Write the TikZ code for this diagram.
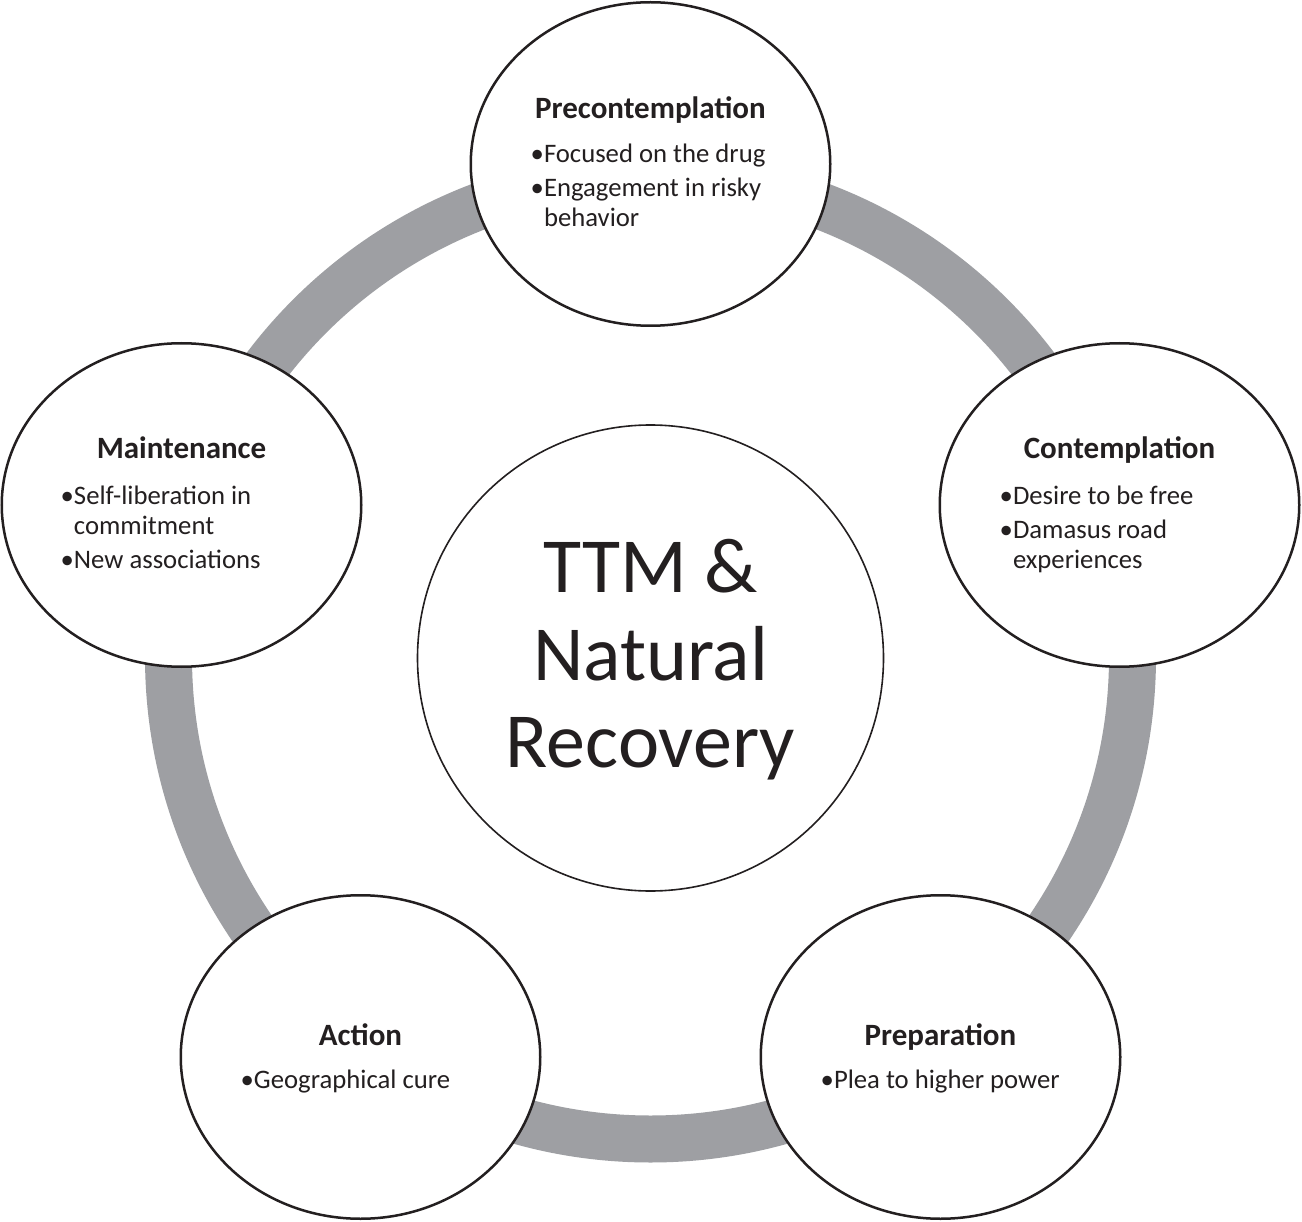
\documentclass[tikz,border=0pt]{standalone}
\usepackage{fontspec}
\setmainfont{Carlito}
\usetikzlibrary{shapes.geometric}
\definecolor{ink}{RGB}{35,31,32}
\definecolor{ringgray}{RGB}{158,159,163}
\begin{document}
\begin{tikzpicture}[x=1pt,y=-1pt,
  stage/.style={ellipse,draw=ink,line width=2.5pt,fill=white,minimum width=359.5pt,minimum height=323.5pt,inner sep=0pt},
  hub/.style={circle,draw=ink,line width=1.6pt,fill=white,minimum size=466pt,inner sep=0pt},
  ringline/.style={draw=ringgray,line width=47pt},
  stitle/.style={anchor=base,inner sep=0pt,font=\fontsize{31}{36}\selectfont\bfseries,text=ink},
  sbody/.style={anchor=base west,inner sep=0pt,font=\fontsize{26.7}{30}\selectfont,text=ink},
  hubtext/.style={anchor=base,inner sep=0pt,font=\fontsize{78}{88}\selectfont,text=ink}
]
\useasboundingbox (0,0) rectangle (1302,1222);
\fill[white] (0,0) rectangle (1302,1222);
\coordinate (o) at (650.5,657);
\draw[ringline] (o) circle[radius=482];
\node[hub] (hub) at (650.5,658) {};
\node[stage] (pre) at (650.5,164) {};
\node[stage] (con) at (1119.5,505) {};
\node[stage] (mai) at (181.5,505) {};
\node[stage] (prep) at (940.5,1057) {};
\node[stage] (act) at (360.5,1057) {};

\node[hubtext] (hubT) at (650.5,592) {\begin{tabular}[t]{@{}c@{}}TTM \&\\Natural\\Recovery\end{tabular}};

\node[stitle] (preT) at ([shift={(0,-45)}]pre.center) {Precontemplation};
\node[sbody] (preB) at ([shift={(-120,-1)}]pre.center) {\begin{tabular}[t]{@{}l@{}l@{}}•&Focused on the drug\\[4pt]•&Engagement in risky\\&behavior\end{tabular}};

\node[stitle] (conT) at ([shift={(0,-46)}]con.center) {Contemplation};
\node[sbody] (conB) at ([shift={(-120,-1)}]con.center) {\begin{tabular}[t]{@{}l@{}l@{}}•&Desire to be free\\[4pt]•&Damasus road\\&experiences\end{tabular}};

\node[stitle] (maiT) at ([shift={(0,-46)}]mai.center) {Maintenance};
\node[sbody] (maiB) at ([shift={(-121,-1)}]mai.center) {\begin{tabular}[t]{@{}l@{}l@{}}•&Self-liberation in\\&commitment\\[4pt]•&New associations\end{tabular}};

\node[stitle] (actT) at ([shift={(0,-12)}]act.center) {Action};
\node[sbody] (actB) at ([shift={(-120,31)}]act.center) {\begin{tabular}[t]{@{}l@{}l@{}}•&Geographical cure\end{tabular}};

\node[stitle] (prepT) at ([shift={(0,-12)}]prep.center) {Preparation};
\node[sbody] (prepB) at ([shift={(-120,31)}]prep.center) {\begin{tabular}[t]{@{}l@{}l@{}}•&Plea to higher power\end{tabular}};
\end{tikzpicture}
\end{document}
